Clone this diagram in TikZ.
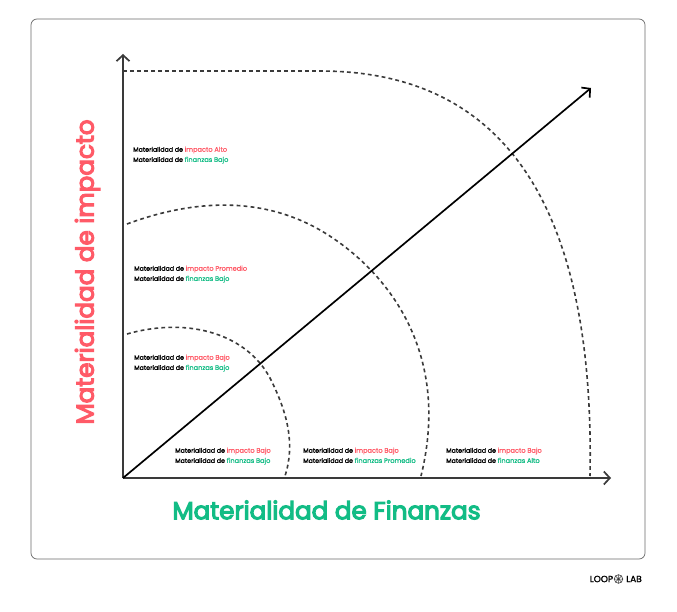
\documentclass[tikz,border=0pt]{standalone}
\usepackage{fontspec}
\setmainfont{Poppins}
\newfontfamily\lblfont[FakeBold=1.6]{Poppins}
\newfontfamily\hilitefont[FakeBold=0.9]{Poppins}
\newfontfamily\titlefont[FakeBold=4.5]{Poppins}
\usetikzlibrary{arrows.meta}
\definecolor{rd}{HTML}{FF5A67}
\definecolor{gn}{HTML}{12BC85}
\definecolor{ax}{HTML}{3A3A3A}
\newcommand{\twolines}[2]{Materialidad de {\hilitefont\fontsize{6.6}{10.2}\selectfont\textcolor{rd}{#1}}\\Materialidad de {\hilitefont\fontsize{6.6}{10.2}\selectfont\textcolor{gn}{#2}}}
\tikzset{
 axisline/.style={draw=ax,line width=1.9pt,-{Straight Barb[length=6pt,width=13pt,line width=1.7pt]}},
 diagline/.style={draw=black,line width=1.7pt,-{Straight Barb[length=6pt,width=13pt,line width=1.7pt]}},
 arcline/.style={draw=ax,line width=1.6pt,dash pattern=on 3.8pt off 3.2pt},
 cellbox/.style={anchor=north west,align=left,inner sep=0pt,text=black,font=\lblfont\fontsize{6.3}{10.2}\selectfont},
 titletext/.style={inner sep=0pt,font=\titlefont\fontsize{24.6}{26}\selectfont},
 logotext/.style={inner sep=0pt,font=\lblfont\fontsize{9}{10}\selectfont,text=black},
}
\begin{document}
\begin{tikzpicture}[x=1pt,y=-1pt]
\useasboundingbox (0,0) rectangle (677,612);
\fill[white] (0,0) rectangle (677,612);
\node[draw=ax!75,line width=0.7pt,rounded corners=6pt,minimum width=614pt,minimum height=540pt,inner sep=0pt] (frame) at (338,289) {};
\coordinate (O) at (123,478);
\coordinate (ytip) at (123,54);
\coordinate (xtip) at (611,478);
\coordinate (dtip) at (591,88);
\draw[arcline] (123,71) -- (320,71) .. controls (507,71) and (595,210) .. (590,476);
\draw[arcline] (127,224) .. controls (200,197) and (268,198) .. (325,233) .. controls (385,270) and (452,350) .. (421,476);
\draw[arcline] (127,334) .. controls (190,316) and (250,335) .. (272,382) .. controls (288,415) and (295,445) .. (285,476);
\draw[axisline] (O) -- (ytip);
\draw[axisline] (O) -- (xtip);
\draw[diagline] (O) -- (dtip);
\node[cellbox] (a) at (133,146.5) {\twolines{impacto Alto}{finanzas Bajo}};
\node[cellbox] (b) at (134,265.5) {\twolines{impacto Promedio}{finanzas Bajo}};
\node[cellbox] (c) at (134,354.5) {\twolines{impacto Bajo}{finanzas Bajo}};
\node[cellbox] (d) at (175,447.5) {\twolines{impacto Bajo}{finanzas Bajo}};
\node[cellbox] (e) at (303,447.5) {\twolines{impacto Bajo}{finanzas Promedio}};
\node[cellbox] (f) at (446,447.5) {\twolines{impacto Bajo}{finanzas Alto}};
\node[titletext,text=gn] (tx) at (326.5,510) {Materialidad de Finanzas};
\node[titletext,text=rd,rotate=90] (ty) at (87.5,272) {Materialidad de impacto};
\node[logotext] (logoa) at (601.5,579) {LOOP};
\node[logotext] (logob) at (634,579) {LAB};
\node[circle,draw=ax,line width=0.6pt,inner sep=0pt,minimum size=8.5pt] (logoc) at (618.5,579) {};
\draw[ax,line width=0.5pt] (logoc.west) -- (logoc.east) (logoc.north) -- (logoc.south) (logoc.north west) -- (logoc.south east) (logoc.north east) -- (logoc.south west);
\end{tikzpicture}
\end{document}
